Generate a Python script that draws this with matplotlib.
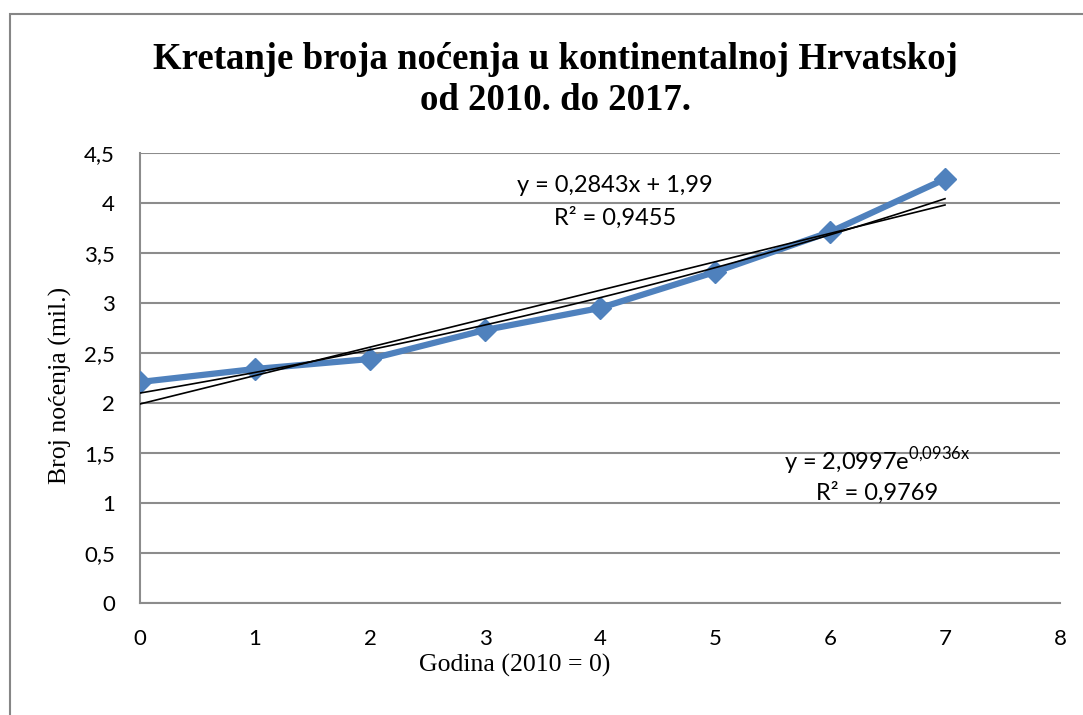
import numpy as np
import matplotlib.pyplot as plt
from matplotlib.patches import Rectangle

# godina (2010 = 0) i broj noćenja u milijunima
godina = [0, 1, 2, 3, 4, 5, 6, 7]
nocenja = [2.21, 2.34, 2.44, 2.73, 2.95, 3.31, 3.71, 4.24]

# koeficijenti trend linija (iz Excela)
lin_k, lin_l = 0.2843, 1.99
exp_a, exp_b = 2.0997, 0.0936

y_ticks = [0, 0.5, 1, 1.5, 2, 2.5, 3, 3.5, 4, 4.5]
y_tick_labels = ["0", "0,5", "1", "1,5", "2", "2,5", "3", "3,5", "4", "4,5"]
x_ticks = [0, 1, 2, 3, 4, 5, 6, 7, 8]

plt.rcParams['mathtext.fontset'] = 'custom'
plt.rcParams['mathtext.rm'] = 'Lato'
sans = ['Lato', 'DejaVu Sans']
serif = ['Liberation Serif', 'DejaVu Serif']

fig = plt.figure(figsize=(10.83, 7.15), dpi=100)
ax = fig.add_axes([140 / 1083, 1 - 603 / 715, 920 / 1083, 450 / 715])

# okvir grafikona
fig.patches.append(Rectangle((10 / 1083, -0.1), 1.2, 1 - 14 / 715 + 0.1,
                             transform=fig.transFigure, fill=False,
                             ec='#868686', lw=1.5))

ax.plot(godina, nocenja, '-D', color='#4F81BD', lw=4.5, ms=11, zorder=3)

xs = np.linspace(0, 7, 100)
ax.plot(xs, lin_k * xs + lin_l, color='black', lw=1.2, zorder=4)
ax.plot(xs, exp_a * np.exp(exp_b * xs), color='black', lw=1.2, zorder=4)

ax.set_xlim(0, 8)
ax.set_ylim(0, 4.5)
ax.set_xticks(x_ticks)
ax.set_xticklabels([str(t) for t in x_ticks], fontfamily=sans, fontsize=16)
ax.set_yticks(y_ticks)
ax.set_yticklabels(y_tick_labels, fontfamily=sans, fontsize=16)
ax.tick_params(length=0, pad=18)
ax.tick_params(axis='x', pad=19)
ax.grid(axis='y', color='#8c8c8c', lw=1.5)
ax.set_axisbelow(True)
for s in ['top', 'right']:
    ax.spines[s].set_visible(False)
for s in ['left', 'bottom']:
    ax.spines[s].set_color('#8c8c8c')
    ax.spines[s].set_linewidth(1.5)

ax.text(4.13, 4.18, "y = 0,2843x + 1,99", ha='center', va='center',
        fontfamily=sans, fontsize=17)
ax.text(4.13, 3.85, "R² = 0,9455", ha='center', va='center',
        fontfamily=sans, fontsize=17)
ax.text(6.41, 1.42, r"y = 2,0997e$^{\mathrm{0{,}0936x}}$", ha='center', va='center',
        fontfamily=sans, fontsize=17)
ax.text(6.41, 1.10, "R² = 0,9769", ha='center', va='center',
        fontfamily=sans, fontsize=17)

ax.set_xlabel("Godina (2010 = 0)", fontfamily=serif, fontsize=18.5)
ax.xaxis.set_label_coords((515 - 140) / 920, -(654 - 603) / 450)
ax.set_ylabel("Broj noćenja (mil.)", fontfamily=serif, fontsize=18.5)
ax.yaxis.set_label_coords(-(140 - 72) / 920, (603 - 385) / 450)

fig.text(555 / 1083, 1 - 80 / 715,
         "Kretanje broja noćenja u kontinentalnoj Hrvatskoj\nod 2010. do 2017.",
         ha='center', va='center', fontfamily=serif, fontweight='bold',
         fontsize=26.5, linespacing=1.2)

fig.savefig("out.png", dpi=100)
